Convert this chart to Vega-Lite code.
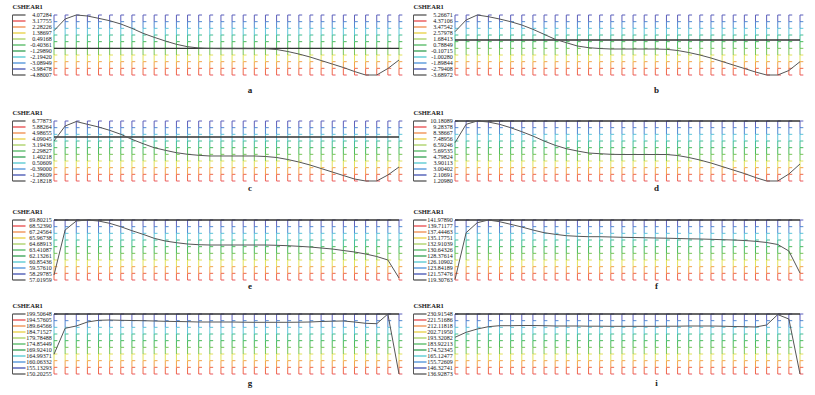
{
"$schema": "https://vega.github.io/schema/vega-lite/v6.json",
"background": "white",
"padding": {"left": 11.5, "top": 4, "right": 5, "bottom": 5},
"config": {"view": {"stroke": null}},
"datasets": {
"grid": [
{"k":0,"cols":[0,1,2,3,4,5,6,7,8,9,10,11,12,13,14,15,16,17,18,19,20,21,22,23,24,25,26,27,28,29,30,31]},
{"k":1,"cols":[0,1,2,3,4,5,6,7,8,9,10,11,12,13,14,15,16,17,18,19,20,21,22,23,24,25,26,27,28,29,30,31]},
{"k":2,"cols":[0,1,2,3,4,5,6,7,8,9,10,11,12,13,14,15,16,17,18,19,20,21,22,23,24,25,26,27,28,29,30,31]},
{"k":3,"cols":[0,1,2,3,4,5,6,7,8,9,10,11,12,13,14,15,16,17,18,19,20,21,22,23,24,25,26,27,28,29,30,31]},
{"k":4,"cols":[0,1,2,3,4,5,6,7,8,9,10,11,12,13,14,15,16,17,18,19,20,21,22,23,24,25,26,27,28,29,30,31]},
{"k":5,"cols":[0,1,2,3,4,5,6,7,8,9,10,11,12,13,14,15,16,17,18,19,20,21,22,23,24,25,26,27,28,29,30,31]},
{"k":6,"cols":[0,1,2,3,4,5,6,7,8,9,10,11,12,13,14,15,16,17,18,19,20,21,22,23,24,25,26,27,28,29,30,31]},
{"k":7,"cols":[0,1,2,3,4,5,6,7,8,9,10,11,12,13,14,15,16,17,18,19,20,21,22,23,24,25,26,27,28,29,30,31]},
{"k":8,"cols":[0,1,2,3,4,5,6,7,8,9,10,11,12,13,14,15,16,17,18,19,20,21,22,23,24,25,26,27,28,29,30,31]},
{"k":9,"cols":[0,1,2,3,4,5,6,7,8,9,10,11,12,13,14,15,16,17,18,19,20,21,22,23,24,25,26,27,28,29,30,31]}
],
"refs": [
{"p":"a","r":-0.896,"title":"CSHEAR1","lab":"a"},
{"p":"b","r":1.535,"title":"CSHEAR1","lab":"b"},
{"p":"c","r":4.389,"title":"CSHEAR1","lab":"c"},
{"p":"d","r":10.18089,"title":"CSHEAR1","lab":"d"},
{"p":"e","r":69.80215,"title":"CSHEAR1","lab":"e"},
{"p":"f","r":141.9789,"title":"CSHEAR1","lab":"f"},
{"p":"g","r":199.50648,"title":"CSHEAR1","lab":"g"},
{"p":"i","r":230.91548,"title":"CSHEAR1","lab":"i"}
],
"legend": [
{"p":"a","lv":10,"v":4.07284,"t":"4.07284"},{"p":"a","lv":9,"v":3.17755,"t":"3.17755"},{"p":"a","lv":8,"v":2.28226,"t":"2.28226"},{"p":"a","lv":7,"v":1.38697,"t":"1.38697"},{"p":"a","lv":6,"v":0.49168,"t":"0.49168"},{"p":"a","lv":5,"v":-0.40361,"t":"-0.40361"},{"p":"a","lv":4,"v":-1.2989,"t":"-1.29890"},{"p":"a","lv":3,"v":-2.1942,"t":"-2.19420"},{"p":"a","lv":2,"v":-3.08949,"t":"-3.08949"},{"p":"a","lv":1,"v":-3.98478,"t":"-3.98478"},{"p":"a","lv":0,"v":-4.88007,"t":"-4.88007"},
{"p":"b","lv":10,"v":5.26671,"t":"5.26671"},{"p":"b","lv":9,"v":4.37106,"t":"4.37106"},{"p":"b","lv":8,"v":3.47542,"t":"3.47542"},{"p":"b","lv":7,"v":2.57978,"t":"2.57978"},{"p":"b","lv":6,"v":1.68413,"t":"1.68413"},{"p":"b","lv":5,"v":0.78849,"t":"0.78849"},{"p":"b","lv":4,"v":-0.10715,"t":"-0.10715"},{"p":"b","lv":3,"v":-1.0028,"t":"-1.00280"},{"p":"b","lv":2,"v":-1.89844,"t":"-1.89844"},{"p":"b","lv":1,"v":-2.79408,"t":"-2.79408"},{"p":"b","lv":0,"v":-3.68972,"t":"-3.68972"},
{"p":"c","lv":10,"v":6.77873,"t":"6.77873"},{"p":"c","lv":9,"v":5.88264,"t":"5.88264"},{"p":"c","lv":8,"v":4.98655,"t":"4.98655"},{"p":"c","lv":7,"v":4.09045,"t":"4.09045"},{"p":"c","lv":6,"v":3.19436,"t":"3.19436"},{"p":"c","lv":5,"v":2.29827,"t":"2.29827"},{"p":"c","lv":4,"v":1.40218,"t":"1.40218"},{"p":"c","lv":3,"v":0.50609,"t":"0.50609"},{"p":"c","lv":2,"v":-0.39,"t":"-0.39000"},{"p":"c","lv":1,"v":-1.28609,"t":"-1.28609"},{"p":"c","lv":0,"v":-2.18218,"t":"-2.18218"},
{"p":"d","lv":10,"v":10.18089,"t":"10.18089"},{"p":"d","lv":9,"v":9.28378,"t":"9.28378"},{"p":"d","lv":8,"v":8.38667,"t":"8.38667"},{"p":"d","lv":7,"v":7.48956,"t":"7.48956"},{"p":"d","lv":6,"v":6.59246,"t":"6.59246"},{"p":"d","lv":5,"v":5.69535,"t":"5.69535"},{"p":"d","lv":4,"v":4.79824,"t":"4.79824"},{"p":"d","lv":3,"v":3.90113,"t":"3.90113"},{"p":"d","lv":2,"v":3.00402,"t":"3.00402"},{"p":"d","lv":1,"v":2.10691,"t":"2.10691"},{"p":"d","lv":0,"v":1.2098,"t":"1.20980"},
{"p":"e","lv":10,"v":69.80215,"t":"69.80215"},{"p":"e","lv":9,"v":68.5239,"t":"68.52390"},{"p":"e","lv":8,"v":67.24564,"t":"67.24564"},{"p":"e","lv":7,"v":65.96738,"t":"65.96738"},{"p":"e","lv":6,"v":64.68913,"t":"64.68913"},{"p":"e","lv":5,"v":63.41087,"t":"63.41087"},{"p":"e","lv":4,"v":62.13261,"t":"62.13261"},{"p":"e","lv":3,"v":60.85436,"t":"60.85436"},{"p":"e","lv":2,"v":59.5761,"t":"59.57610"},{"p":"e","lv":1,"v":58.29785,"t":"58.29785"},{"p":"e","lv":0,"v":57.01959,"t":"57.01959"},
{"p":"f","lv":10,"v":141.9789,"t":"141.97890"},{"p":"f","lv":9,"v":139.71177,"t":"139.71177"},{"p":"f","lv":8,"v":137.44463,"t":"137.44463"},{"p":"f","lv":7,"v":135.17751,"t":"135.17751"},{"p":"f","lv":6,"v":132.91039,"t":"132.91039"},{"p":"f","lv":5,"v":130.64326,"t":"130.64326"},{"p":"f","lv":4,"v":128.37614,"t":"128.37614"},{"p":"f","lv":3,"v":126.10902,"t":"126.10902"},{"p":"f","lv":2,"v":123.84189,"t":"123.84189"},{"p":"f","lv":1,"v":121.57476,"t":"121.57476"},{"p":"f","lv":0,"v":119.30763,"t":"119.30763"},
{"p":"g","lv":10,"v":199.50648,"t":"199.50648"},{"p":"g","lv":9,"v":194.57605,"t":"194.57605"},{"p":"g","lv":8,"v":189.64566,"t":"189.64566"},{"p":"g","lv":7,"v":184.71527,"t":"184.71527"},{"p":"g","lv":6,"v":179.78488,"t":"179.78488"},{"p":"g","lv":5,"v":174.85449,"t":"174.85449"},{"p":"g","lv":4,"v":169.9241,"t":"169.92410"},{"p":"g","lv":3,"v":164.99371,"t":"164.99371"},{"p":"g","lv":2,"v":160.06332,"t":"160.06332"},{"p":"g","lv":1,"v":155.13293,"t":"155.13293"},{"p":"g","lv":0,"v":150.20255,"t":"150.20255"},
{"p":"i","lv":10,"v":230.91548,"t":"230.91548"},{"p":"i","lv":9,"v":221.51686,"t":"221.51686"},{"p":"i","lv":8,"v":212.11818,"t":"212.11818"},{"p":"i","lv":7,"v":202.7195,"t":"202.71950"},{"p":"i","lv":6,"v":193.32082,"t":"193.32082"},{"p":"i","lv":5,"v":183.92213,"t":"183.92213"},{"p":"i","lv":4,"v":174.52345,"t":"174.52345"},{"p":"i","lv":3,"v":165.12477,"t":"165.12477"},{"p":"i","lv":2,"v":155.72609,"t":"155.72609"},{"p":"i","lv":1,"v":146.32741,"t":"146.32741"},{"p":"i","lv":0,"v":136.92873,"t":"136.92873"}
],
"curves": [
{"p":"a","c":0,"v":1.73},{"p":"a","c":1,"v":3.476},{"p":"a","c":2,"v":4.073},{"p":"a","c":3,"v":3.924},{"p":"a","c":4,"v":3.58},{"p":"a","c":5,"v":3.222},{"p":"a","c":6,"v":2.73},{"p":"a","c":7,"v":2.088},{"p":"a","c":8,"v":1.342},{"p":"a","c":9,"v":0.745},{"p":"a","c":10,"v":0.193},{"p":"a","c":11,"v":-0.299},{"p":"a","c":12,"v":-0.657},{"p":"a","c":13,"v":-0.851},{"p":"a","c":14,"v":-0.926},{"p":"a","c":15,"v":-0.956},{"p":"a","c":16,"v":-0.956},{"p":"a","c":17,"v":-0.956},{"p":"a","c":18,"v":-0.956},{"p":"a","c":19,"v":-0.956},{"p":"a","c":20,"v":-1.075},{"p":"a","c":21,"v":-1.374},{"p":"a","c":22,"v":-1.747},{"p":"a","c":23,"v":-2.194},{"p":"a","c":24,"v":-2.717},{"p":"a","c":25,"v":-3.239},{"p":"a","c":26,"v":-3.761},{"p":"a","c":27,"v":-4.358},{"p":"a","c":28,"v":-4.88},{"p":"a","c":29,"v":-4.88},{"p":"a","c":30,"v":-3.91},{"p":"a","c":31,"v":-2.642},
{"p":"b","c":0,"v":2.774},{"p":"b","c":1,"v":4.52},{"p":"b","c":2,"v":5.267},{"p":"b","c":3,"v":5.013},{"p":"b","c":4,"v":4.67},{"p":"b","c":5,"v":4.267},{"p":"b","c":6,"v":3.774},{"p":"b","c":7,"v":3.132},{"p":"b","c":8,"v":2.386},{"p":"b","c":9,"v":1.639},{"p":"b","c":10,"v":1.132},{"p":"b","c":11,"v":0.639},{"p":"b","c":12,"v":0.386},{"p":"b","c":13,"v":0.266},{"p":"b","c":14,"v":0.191},{"p":"b","c":15,"v":0.191},{"p":"b","c":16,"v":0.191},{"p":"b","c":17,"v":0.191},{"p":"b","c":18,"v":0.191},{"p":"b","c":19,"v":0.147},{"p":"b","c":20,"v":-0.032},{"p":"b","c":21,"v":-0.331},{"p":"b","c":22,"v":-0.704},{"p":"b","c":23,"v":-1.152},{"p":"b","c":24,"v":-1.674},{"p":"b","c":25,"v":-2.198},{"p":"b","c":26,"v":-2.719},{"p":"b","c":27,"v":-3.242},{"p":"b","c":28,"v":-3.69},{"p":"b","c":29,"v":-3.69},{"p":"b","c":30,"v":-3.018},{"p":"b","c":31,"v":-1.704},
{"p":"c","c":0,"v":3.792},{"p":"c","c":1,"v":6.032},{"p":"c","c":2,"v":6.7},{"p":"c","c":3,"v":6.286},{"p":"c","c":4,"v":5.883},{"p":"c","c":5,"v":5.39},{"p":"c","c":6,"v":4.792},{"p":"c","c":7,"v":4.046},{"p":"c","c":8,"v":3.388},{"p":"c","c":9,"v":2.791},{"p":"c","c":10,"v":2.403},{"p":"c","c":11,"v":2.044},{"p":"c","c":12,"v":1.806},{"p":"c","c":13,"v":1.656},{"p":"c","c":14,"v":1.552},{"p":"c","c":15,"v":1.552},{"p":"c","c":16,"v":1.552},{"p":"c","c":17,"v":1.552},{"p":"c","c":18,"v":1.552},{"p":"c","c":19,"v":1.477},{"p":"c","c":20,"v":1.328},{"p":"c","c":21,"v":1.029},{"p":"c","c":22,"v":0.656},{"p":"c","c":23,"v":0.207},{"p":"c","c":24,"v":-0.316},{"p":"c","c":25,"v":-0.838},{"p":"c","c":26,"v":-1.361},{"p":"c","c":27,"v":-1.884},{"p":"c","c":28,"v":-2.182},{"p":"c","c":29,"v":-2.182},{"p":"c","c":30,"v":-1.286},{"p":"c","c":31,"v":-0.091},
{"p":"d","c":0,"v":6.936},{"p":"d","c":1,"v":9.688},{"p":"d","c":2,"v":10.181},{"p":"d","c":3,"v":10.031},{"p":"d","c":4,"v":9.688},{"p":"d","c":5,"v":9.179},{"p":"d","c":6,"v":8.581},{"p":"d","c":7,"v":7.938},{"p":"d","c":8,"v":7.19},{"p":"d","c":9,"v":6.548},{"p":"d","c":10,"v":6.039},{"p":"d","c":11,"v":5.695},{"p":"d","c":12,"v":5.396},{"p":"d","c":13,"v":5.292},{"p":"d","c":14,"v":5.202},{"p":"d","c":15,"v":5.172},{"p":"d","c":16,"v":5.172},{"p":"d","c":17,"v":5.172},{"p":"d","c":18,"v":5.172},{"p":"d","c":19,"v":5.172},{"p":"d","c":20,"v":5.022},{"p":"d","c":21,"v":4.724},{"p":"d","c":22,"v":4.35},{"p":"d","c":23,"v":3.901},{"p":"d","c":24,"v":3.378},{"p":"d","c":25,"v":2.854},{"p":"d","c":26,"v":2.331},{"p":"d","c":27,"v":1.733},{"p":"d","c":28,"v":1.21},{"p":"d","c":29,"v":1.21},{"p":"d","c":30,"v":2.256},{"p":"d","c":31,"v":3.752},
{"p":"e","c":0,"v":58.085},{"p":"e","c":1,"v":67.672},{"p":"e","c":2,"v":69.589},{"p":"e","c":3,"v":69.802},{"p":"e","c":4,"v":69.589},{"p":"e","c":5,"v":69.099},{"p":"e","c":6,"v":68.375},{"p":"e","c":7,"v":67.523},{"p":"e","c":8,"v":66.756},{"p":"e","c":9,"v":65.904},{"p":"e","c":10,"v":65.328},{"p":"e","c":11,"v":64.966},{"p":"e","c":12,"v":64.689},{"p":"e","c":13,"v":64.54},{"p":"e","c":14,"v":64.476},{"p":"e","c":15,"v":64.476},{"p":"e","c":16,"v":64.476},{"p":"e","c":17,"v":64.476},{"p":"e","c":18,"v":64.476},{"p":"e","c":19,"v":64.476},{"p":"e","c":20,"v":64.412},{"p":"e","c":21,"v":64.327},{"p":"e","c":22,"v":64.199},{"p":"e","c":23,"v":64.05},{"p":"e","c":24,"v":63.837},{"p":"e","c":25,"v":63.624},{"p":"e","c":26,"v":63.304},{"p":"e","c":27,"v":62.985},{"p":"e","c":28,"v":62.559},{"p":"e","c":29,"v":62.026},{"p":"e","c":30,"v":61.281},{"p":"e","c":31,"v":57.446},
{"p":"f","c":0,"v":119.5},{"p":"f","c":1,"v":137.18},{"p":"f","c":2,"v":140.959},{"p":"f","c":3,"v":141.979},{"p":"f","c":4,"v":141.337},{"p":"f","c":5,"v":140.354},{"p":"f","c":6,"v":139.334},{"p":"f","c":7,"v":138.2},{"p":"f","c":8,"v":137.18},{"p":"f","c":9,"v":136.576},{"p":"f","c":10,"v":136.047},{"p":"f","c":11,"v":135.82},{"p":"f","c":12,"v":135.669},{"p":"f","c":13,"v":135.669},{"p":"f","c":14,"v":135.556},{"p":"f","c":15,"v":135.442},{"p":"f","c":16,"v":135.367},{"p":"f","c":17,"v":135.291},{"p":"f","c":18,"v":135.178},{"p":"f","c":19,"v":135.102},{"p":"f","c":20,"v":134.989},{"p":"f","c":21,"v":134.876},{"p":"f","c":22,"v":134.8},{"p":"f","c":23,"v":134.687},{"p":"f","c":24,"v":134.536},{"p":"f","c":25,"v":134.422},{"p":"f","c":26,"v":134.233},{"p":"f","c":27,"v":133.931},{"p":"f","c":28,"v":133.478},{"p":"f","c":29,"v":132.722},{"p":"f","c":30,"v":130.266},{"p":"f","c":31,"v":121.953},
{"p":"g","c":0,"v":166.391},{"p":"g","c":1,"v":187.756},{"p":"g","c":2,"v":189.646},{"p":"g","c":3,"v":192.933},{"p":"g","c":4,"v":194.33},{"p":"g","c":5,"v":194.576},{"p":"g","c":6,"v":194.33},{"p":"g","c":7,"v":194.165},{"p":"g","c":8,"v":194.001},{"p":"g","c":9,"v":193.755},{"p":"g","c":10,"v":193.508},{"p":"g","c":11,"v":193.343},{"p":"g","c":12,"v":193.179},{"p":"g","c":13,"v":192.933},{"p":"g","c":14,"v":192.933},{"p":"g","c":15,"v":192.933},{"p":"g","c":16,"v":192.933},{"p":"g","c":17,"v":192.768},{"p":"g","c":18,"v":192.686},{"p":"g","c":19,"v":192.686},{"p":"g","c":20,"v":192.686},{"p":"g","c":21,"v":192.686},{"p":"g","c":22,"v":192.768},{"p":"g","c":23,"v":192.933},{"p":"g","c":24,"v":193.343},{"p":"g","c":25,"v":193.59},{"p":"g","c":26,"v":193.755},{"p":"g","c":27,"v":192.933},{"p":"g","c":28,"v":191.865},{"p":"g","c":29,"v":191.536},{"p":"g","c":30,"v":199.5},{"p":"g","c":31,"v":150.21},
{"p":"i","c":0,"v":194.418},{"p":"i","c":1,"v":202.25},{"p":"i","c":2,"v":207.419},{"p":"i","c":3,"v":211.022},{"p":"i","c":4,"v":212.589},{"p":"i","c":5,"v":212.589},{"p":"i","c":6,"v":212.902},{"p":"i","c":7,"v":212.902},{"p":"i","c":8,"v":212.589},{"p":"i","c":9,"v":212.118},{"p":"i","c":10,"v":212.118},{"p":"i","c":11,"v":212.118},{"p":"i","c":12,"v":211.805},{"p":"i","c":13,"v":211.805},{"p":"i","c":14,"v":211.648},{"p":"i","c":15,"v":211.648},{"p":"i","c":16,"v":211.648},{"p":"i","c":17,"v":211.648},{"p":"i","c":18,"v":211.648},{"p":"i","c":19,"v":211.805},{"p":"i","c":20,"v":211.805},{"p":"i","c":21,"v":212.118},{"p":"i","c":22,"v":212.118},{"p":"i","c":23,"v":212.118},{"p":"i","c":24,"v":211.805},{"p":"i","c":25,"v":211.335},{"p":"i","c":26,"v":211.022},{"p":"i","c":27,"v":210.552},{"p":"i","c":28,"v":213.685},{"p":"i","c":29,"v":230.0},{"p":"i","c":30,"v":223.083},{"p":"i","c":31,"v":136.93}
]
},
"vconcat": [
{"hconcat": [
{"width":386.5,"height":60,"layer":[
{"layer":[
{"data":{"name":"grid"},"transform":[{"flatten":["cols"]}],"mark":{"type":"point","filled":false,"opacity":0.9,"strokeWidth":1,"size":178},"encoding":{"x":{"field":"cols","type":"quantitative","scale":{"domain":[-3.73,31],"nice":false,"zero":false},"axis":null},"y":{"field":"k","type":"quantitative","scale":{"domain":[0,9],"nice":false,"zero":false},"axis":null},"stroke":{"field":"k","type":"nominal","scale":{"domain":[0,1,2,3,4,5,6,7,8,9],"range":["#e8444f","#ee5a3a","#f29a38","#e0e04a","#6cc04a","#39b54a","#2fb88a","#4fc1d6","#3f7fcf","#4b4fb5"]},"legend":null},"shape":{"field":"k","type":"nominal","scale":{"domain":[0,1,2,3,4,5,6,7,8,9],"range":["M0,0H0.5","M0,0H0.5M0,0V1","M0,0H0.5M0,0V1","M0,0H0.5M0,0V1","M0,0H0.5M0,0V1","M0,0H0.5M0,0V1","M0,0H0.5M0,0V1","M0,0H0.5M0,0V1","M0,0H0.5M0,0V1","M0,0H0.5M0,0V1"]},"legend":null}}},
{"data":{"name":"refs"},"transform":[{"filter":"datum.p=='a'"}],"mark":{"type":"text","align":"left","baseline":"middle","font":"Liberation Serif","fontSize":6.5,"fontWeight":"bold","color":"#222"},"encoding":{"x":{"datum":-3.73},"y":{"datum":10.2},"text":{"field":"title"}}},
{"data":{"name":"refs"},"transform":[{"filter":"datum.p=='a'"}],"mark":{"type":"text","align":"center","baseline":"middle","font":"Liberation Serif","fontSize":9,"fontWeight":"bold","color":"#222"},"encoding":{"x":{"datum":17.6},"y":{"datum":-2.18},"text":{"field":"lab"}}}
]},
{"layer":[
{"data":{"name":"legend"},"transform":[{"filter":"datum.p=='a'"}],"mark":{"type":"rule","strokeWidth":1.3},"encoding":{"x":{"datum":-3.73},"x2":{"datum":-2.56},"y":{"field":"v","type":"quantitative","scale":{"domain":[-4.88007,4.07284],"nice":false,"zero":false},"axis":null},"color":{"field":"lv","type":"nominal","scale":{"domain":[0,1,2,3,4,5,6,7,8,9,10],"range":["#555555","#4050b0","#4a90d8","#50c8d0","#30a050","#50b860","#a8d060","#e8d040","#f08a4a","#e8474a","#555555"]},"legend":null}}},
{"data":{"name":"refs"},"transform":[{"filter":"datum.p=='a'"}],"mark":{"type":"rule","color":"#555555","strokeWidth":1},"encoding":{"x":{"datum":-3.73},"y":{"datum":-4.88007},"y2":{"datum":4.07284}}},
{"data":{"name":"legend"},"transform":[{"filter":"datum.p=='a'"}],"mark":{"type":"text","align":"right","baseline":"middle","font":"Liberation Serif","fontSize":6,"color":"#111111"},"encoding":{"x":{"datum":-0.2},"y":{"field":"v","type":"quantitative"},"text":{"field":"t"}}},
{"data":{"name":"refs"},"transform":[{"filter":"datum.p=='a'"}],"mark":{"type":"rule","color":"#333333","strokeWidth":1.3},"encoding":{"x":{"datum":0},"x2":{"datum":31},"y":{"field":"r","type":"quantitative"}}},
{"data":{"name":"curves"},"transform":[{"filter":"datum.p=='a'"}],"mark":{"type":"line","color":"#555555","strokeWidth":1},"encoding":{"x":{"field":"c","type":"quantitative"},"y":{"field":"v","type":"quantitative"}}}
]}
],"resolve":{"scale":{"y":"independent"}}},
{"width":386.5,"height":60,"layer":[
{"layer":[
{"data":{"name":"grid"},"transform":[{"flatten":["cols"]}],"mark":{"type":"point","filled":false,"opacity":0.9,"strokeWidth":1,"size":178},"encoding":{"x":{"field":"cols","type":"quantitative","scale":{"domain":[-3.73,31],"nice":false,"zero":false},"axis":null},"y":{"field":"k","type":"quantitative","scale":{"domain":[0,9],"nice":false,"zero":false},"axis":null},"stroke":{"field":"k","type":"nominal","scale":{"domain":[0,1,2,3,4,5,6,7,8,9],"range":["#e8444f","#ee5a3a","#f29a38","#e0e04a","#6cc04a","#39b54a","#2fb88a","#4fc1d6","#3f7fcf","#4b4fb5"]},"legend":null},"shape":{"field":"k","type":"nominal","scale":{"domain":[0,1,2,3,4,5,6,7,8,9],"range":["M0,0H0.5","M0,0H0.5M0,0V1","M0,0H0.5M0,0V1","M0,0H0.5M0,0V1","M0,0H0.5M0,0V1","M0,0H0.5M0,0V1","M0,0H0.5M0,0V1","M0,0H0.5M0,0V1","M0,0H0.5M0,0V1","M0,0H0.5M0,0V1"]},"legend":null}}},
{"data":{"name":"refs"},"transform":[{"filter":"datum.p=='b'"}],"mark":{"type":"text","align":"left","baseline":"middle","font":"Liberation Serif","fontSize":6.5,"fontWeight":"bold","color":"#222"},"encoding":{"x":{"datum":-3.73},"y":{"datum":10.2},"text":{"field":"title"}}},
{"data":{"name":"refs"},"transform":[{"filter":"datum.p=='b'"}],"mark":{"type":"text","align":"center","baseline":"middle","font":"Liberation Serif","fontSize":9,"fontWeight":"bold","color":"#222"},"encoding":{"x":{"datum":18.1},"y":{"datum":-2.18},"text":{"field":"lab"}}}
]},
{"layer":[
{"data":{"name":"legend"},"transform":[{"filter":"datum.p=='b'"}],"mark":{"type":"rule","strokeWidth":1.3},"encoding":{"x":{"datum":-3.73},"x2":{"datum":-2.56},"y":{"field":"v","type":"quantitative","scale":{"domain":[-3.68972,5.26671],"nice":false,"zero":false},"axis":null},"color":{"field":"lv","type":"nominal","scale":{"domain":[0,1,2,3,4,5,6,7,8,9,10],"range":["#555555","#4050b0","#4a90d8","#50c8d0","#30a050","#50b860","#a8d060","#e8d040","#f08a4a","#e8474a","#555555"]},"legend":null}}},
{"data":{"name":"refs"},"transform":[{"filter":"datum.p=='b'"}],"mark":{"type":"rule","color":"#555555","strokeWidth":1},"encoding":{"x":{"datum":-3.73},"y":{"datum":-3.68972},"y2":{"datum":5.26671}}},
{"data":{"name":"legend"},"transform":[{"filter":"datum.p=='b'"}],"mark":{"type":"text","align":"right","baseline":"middle","font":"Liberation Serif","fontSize":6,"color":"#111111"},"encoding":{"x":{"datum":-0.2},"y":{"field":"v","type":"quantitative"},"text":{"field":"t"}}},
{"data":{"name":"refs"},"transform":[{"filter":"datum.p=='b'"}],"mark":{"type":"rule","color":"#333333","strokeWidth":1.3},"encoding":{"x":{"datum":0},"x2":{"datum":31},"y":{"field":"r","type":"quantitative"}}},
{"data":{"name":"curves"},"transform":[{"filter":"datum.p=='b'"}],"mark":{"type":"line","color":"#555555","strokeWidth":1},"encoding":{"x":{"field":"c","type":"quantitative"},"y":{"field":"v","type":"quantitative"}}}
]}
],"resolve":{"scale":{"y":"independent"}}}
], "spacing": 14, "bounds": "flush"},
{"vconcat": [
{"hconcat": [
{"width":386.5,"height":60,"layer":[
{"layer":[
{"data":{"name":"grid"},"transform":[{"flatten":["cols"]}],"mark":{"type":"point","filled":false,"opacity":0.9,"strokeWidth":1,"size":178},"encoding":{"x":{"field":"cols","type":"quantitative","scale":{"domain":[-3.73,31],"nice":false,"zero":false},"axis":null},"y":{"field":"k","type":"quantitative","scale":{"domain":[0,9],"nice":false,"zero":false},"axis":null},"stroke":{"field":"k","type":"nominal","scale":{"domain":[0,1,2,3,4,5,6,7,8,9],"range":["#e8444f","#ee5a3a","#f29a38","#e0e04a","#6cc04a","#39b54a","#2fb88a","#4fc1d6","#3f7fcf","#4b4fb5"]},"legend":null},"shape":{"field":"k","type":"nominal","scale":{"domain":[0,1,2,3,4,5,6,7,8,9],"range":["M0,0H0.5","M0,0H0.5M0,0V1","M0,0H0.5M0,0V1","M0,0H0.5M0,0V1","M0,0H0.5M0,0V1","M0,0H0.5M0,0V1","M0,0H0.5M0,0V1","M0,0H0.5M0,0V1","M0,0H0.5M0,0V1","M0,0H0.5M0,0V1"]},"legend":null}}},
{"data":{"name":"refs"},"transform":[{"filter":"datum.p=='c'"}],"mark":{"type":"text","align":"left","baseline":"middle","font":"Liberation Serif","fontSize":6.5,"fontWeight":"bold","color":"#222"},"encoding":{"x":{"datum":-3.73},"y":{"datum":10.2},"text":{"field":"title"}}},
{"data":{"name":"refs"},"transform":[{"filter":"datum.p=='c'"}],"mark":{"type":"text","align":"center","baseline":"middle","font":"Liberation Serif","fontSize":9,"fontWeight":"bold","color":"#222"},"encoding":{"x":{"datum":17.6},"y":{"datum":-1.05},"text":{"field":"lab"}}}
]},
{"layer":[
{"data":{"name":"legend"},"transform":[{"filter":"datum.p=='c'"}],"mark":{"type":"rule","strokeWidth":1.3},"encoding":{"x":{"datum":-3.73},"x2":{"datum":-2.56},"y":{"field":"v","type":"quantitative","scale":{"domain":[-2.18218,6.77873],"nice":false,"zero":false},"axis":null},"color":{"field":"lv","type":"nominal","scale":{"domain":[0,1,2,3,4,5,6,7,8,9,10],"range":["#555555","#4050b0","#4a90d8","#50c8d0","#30a050","#50b860","#a8d060","#e8d040","#f08a4a","#e8474a","#555555"]},"legend":null}}},
{"data":{"name":"refs"},"transform":[{"filter":"datum.p=='c'"}],"mark":{"type":"rule","color":"#555555","strokeWidth":1},"encoding":{"x":{"datum":-3.73},"y":{"datum":-2.18218},"y2":{"datum":6.77873}}},
{"data":{"name":"legend"},"transform":[{"filter":"datum.p=='c'"}],"mark":{"type":"text","align":"right","baseline":"middle","font":"Liberation Serif","fontSize":6,"color":"#111111"},"encoding":{"x":{"datum":-0.2},"y":{"field":"v","type":"quantitative"},"text":{"field":"t"}}},
{"data":{"name":"refs"},"transform":[{"filter":"datum.p=='c'"}],"mark":{"type":"rule","color":"#333333","strokeWidth":1.3},"encoding":{"x":{"datum":0},"x2":{"datum":31},"y":{"field":"r","type":"quantitative"}}},
{"data":{"name":"curves"},"transform":[{"filter":"datum.p=='c'"}],"mark":{"type":"line","color":"#555555","strokeWidth":1},"encoding":{"x":{"field":"c","type":"quantitative"},"y":{"field":"v","type":"quantitative"}}}
]}
],"resolve":{"scale":{"y":"independent"}}},
{"width":386.5,"height":60,"layer":[
{"layer":[
{"data":{"name":"grid"},"transform":[{"flatten":["cols"]}],"mark":{"type":"point","filled":false,"opacity":0.9,"strokeWidth":1,"size":178},"encoding":{"x":{"field":"cols","type":"quantitative","scale":{"domain":[-3.73,31],"nice":false,"zero":false},"axis":null},"y":{"field":"k","type":"quantitative","scale":{"domain":[0,9],"nice":false,"zero":false},"axis":null},"stroke":{"field":"k","type":"nominal","scale":{"domain":[0,1,2,3,4,5,6,7,8,9],"range":["#e8444f","#ee5a3a","#f29a38","#e0e04a","#6cc04a","#39b54a","#2fb88a","#4fc1d6","#3f7fcf","#4b4fb5"]},"legend":null},"shape":{"field":"k","type":"nominal","scale":{"domain":[0,1,2,3,4,5,6,7,8,9],"range":["M0,0H0.5","M0,0H0.5M0,0V1","M0,0H0.5M0,0V1","M0,0H0.5M0,0V1","M0,0H0.5M0,0V1","M0,0H0.5M0,0V1","M0,0H0.5M0,0V1","M0,0H0.5M0,0V1","M0,0H0.5M0,0V1","M0,0H0.5M0,0V1"]},"legend":null}}},
{"data":{"name":"refs"},"transform":[{"filter":"datum.p=='d'"}],"mark":{"type":"text","align":"left","baseline":"middle","font":"Liberation Serif","fontSize":6.5,"fontWeight":"bold","color":"#222"},"encoding":{"x":{"datum":-3.73},"y":{"datum":10.2},"text":{"field":"title"}}},
{"data":{"name":"refs"},"transform":[{"filter":"datum.p=='d'"}],"mark":{"type":"text","align":"center","baseline":"middle","font":"Liberation Serif","fontSize":9,"fontWeight":"bold","color":"#222"},"encoding":{"x":{"datum":18.1},"y":{"datum":-1.05},"text":{"field":"lab"}}}
]},
{"layer":[
{"data":{"name":"legend"},"transform":[{"filter":"datum.p=='d'"}],"mark":{"type":"rule","strokeWidth":1.3},"encoding":{"x":{"datum":-3.73},"x2":{"datum":-2.56},"y":{"field":"v","type":"quantitative","scale":{"domain":[1.2098,10.18089],"nice":false,"zero":false},"axis":null},"color":{"field":"lv","type":"nominal","scale":{"domain":[0,1,2,3,4,5,6,7,8,9,10],"range":["#555555","#4050b0","#4a90d8","#50c8d0","#30a050","#50b860","#a8d060","#e8d040","#f08a4a","#e8474a","#555555"]},"legend":null}}},
{"data":{"name":"refs"},"transform":[{"filter":"datum.p=='d'"}],"mark":{"type":"rule","color":"#555555","strokeWidth":1},"encoding":{"x":{"datum":-3.73},"y":{"datum":1.2098},"y2":{"datum":10.18089}}},
{"data":{"name":"legend"},"transform":[{"filter":"datum.p=='d'"}],"mark":{"type":"text","align":"right","baseline":"middle","font":"Liberation Serif","fontSize":6,"color":"#111111"},"encoding":{"x":{"datum":-0.2},"y":{"field":"v","type":"quantitative"},"text":{"field":"t"}}},
{"data":{"name":"refs"},"transform":[{"filter":"datum.p=='d'"}],"mark":{"type":"rule","color":"#333333","strokeWidth":1.3},"encoding":{"x":{"datum":0},"x2":{"datum":31},"y":{"field":"r","type":"quantitative"}}},
{"data":{"name":"curves"},"transform":[{"filter":"datum.p=='d'"}],"mark":{"type":"line","color":"#555555","strokeWidth":1},"encoding":{"x":{"field":"c","type":"quantitative"},"y":{"field":"v","type":"quantitative"}}}
]}
],"resolve":{"scale":{"y":"independent"}}}
], "spacing": 14, "bounds": "flush"},
{"vconcat": [
{"hconcat": [
{"width":386.5,"height":60,"layer":[
{"layer":[
{"data":{"name":"grid"},"transform":[{"flatten":["cols"]}],"mark":{"type":"point","filled":false,"opacity":0.9,"strokeWidth":1,"size":178},"encoding":{"x":{"field":"cols","type":"quantitative","scale":{"domain":[-3.73,31],"nice":false,"zero":false},"axis":null},"y":{"field":"k","type":"quantitative","scale":{"domain":[0,9],"nice":false,"zero":false},"axis":null},"stroke":{"field":"k","type":"nominal","scale":{"domain":[0,1,2,3,4,5,6,7,8,9],"range":["#e8444f","#ee5a3a","#f29a38","#e0e04a","#6cc04a","#39b54a","#2fb88a","#4fc1d6","#3f7fcf","#4b4fb5"]},"legend":null},"shape":{"field":"k","type":"nominal","scale":{"domain":[0,1,2,3,4,5,6,7,8,9],"range":["M0,0H0.5","M0,0H0.5M0,0V1","M0,0H0.5M0,0V1","M0,0H0.5M0,0V1","M0,0H0.5M0,0V1","M0,0H0.5M0,0V1","M0,0H0.5M0,0V1","M0,0H0.5M0,0V1","M0,0H0.5M0,0V1","M0,0H0.5M0,0V1"]},"legend":null}}},
{"data":{"name":"refs"},"transform":[{"filter":"datum.p=='e'"}],"mark":{"type":"text","align":"left","baseline":"middle","font":"Liberation Serif","fontSize":6.5,"fontWeight":"bold","color":"#222"},"encoding":{"x":{"datum":-3.73},"y":{"datum":10.2},"text":{"field":"title"}}},
{"data":{"name":"refs"},"transform":[{"filter":"datum.p=='e'"}],"mark":{"type":"text","align":"center","baseline":"middle","font":"Liberation Serif","fontSize":9,"fontWeight":"bold","color":"#222"},"encoding":{"x":{"datum":17.6},"y":{"datum":-0.9},"text":{"field":"lab"}}}
]},
{"layer":[
{"data":{"name":"legend"},"transform":[{"filter":"datum.p=='e'"}],"mark":{"type":"rule","strokeWidth":1.3},"encoding":{"x":{"datum":-3.73},"x2":{"datum":-2.56},"y":{"field":"v","type":"quantitative","scale":{"domain":[57.01959,69.80215],"nice":false,"zero":false},"axis":null},"color":{"field":"lv","type":"nominal","scale":{"domain":[0,1,2,3,4,5,6,7,8,9,10],"range":["#555555","#4050b0","#4a90d8","#50c8d0","#30a050","#50b860","#a8d060","#e8d040","#f08a4a","#e8474a","#555555"]},"legend":null}}},
{"data":{"name":"refs"},"transform":[{"filter":"datum.p=='e'"}],"mark":{"type":"rule","color":"#555555","strokeWidth":1},"encoding":{"x":{"datum":-3.73},"y":{"datum":57.01959},"y2":{"datum":69.80215}}},
{"data":{"name":"legend"},"transform":[{"filter":"datum.p=='e'"}],"mark":{"type":"text","align":"right","baseline":"middle","font":"Liberation Serif","fontSize":6,"color":"#111111"},"encoding":{"x":{"datum":-0.2},"y":{"field":"v","type":"quantitative"},"text":{"field":"t"}}},
{"data":{"name":"refs"},"transform":[{"filter":"datum.p=='e'"}],"mark":{"type":"rule","color":"#333333","strokeWidth":1.3},"encoding":{"x":{"datum":0},"x2":{"datum":31},"y":{"field":"r","type":"quantitative"}}},
{"data":{"name":"curves"},"transform":[{"filter":"datum.p=='e'"}],"mark":{"type":"line","color":"#555555","strokeWidth":1},"encoding":{"x":{"field":"c","type":"quantitative"},"y":{"field":"v","type":"quantitative"}}}
]}
],"resolve":{"scale":{"y":"independent"}}},
{"width":386.5,"height":60,"layer":[
{"layer":[
{"data":{"name":"grid"},"transform":[{"flatten":["cols"]}],"mark":{"type":"point","filled":false,"opacity":0.9,"strokeWidth":1,"size":178},"encoding":{"x":{"field":"cols","type":"quantitative","scale":{"domain":[-3.73,31],"nice":false,"zero":false},"axis":null},"y":{"field":"k","type":"quantitative","scale":{"domain":[0,9],"nice":false,"zero":false},"axis":null},"stroke":{"field":"k","type":"nominal","scale":{"domain":[0,1,2,3,4,5,6,7,8,9],"range":["#e8444f","#ee5a3a","#f29a38","#e0e04a","#6cc04a","#39b54a","#2fb88a","#4fc1d6","#3f7fcf","#4b4fb5"]},"legend":null},"shape":{"field":"k","type":"nominal","scale":{"domain":[0,1,2,3,4,5,6,7,8,9],"range":["M0,0H0.5","M0,0H0.5M0,0V1","M0,0H0.5M0,0V1","M0,0H0.5M0,0V1","M0,0H0.5M0,0V1","M0,0H0.5M0,0V1","M0,0H0.5M0,0V1","M0,0H0.5M0,0V1","M0,0H0.5M0,0V1","M0,0H0.5M0,0V1"]},"legend":null}}},
{"data":{"name":"refs"},"transform":[{"filter":"datum.p=='f'"}],"mark":{"type":"text","align":"left","baseline":"middle","font":"Liberation Serif","fontSize":6.5,"fontWeight":"bold","color":"#222"},"encoding":{"x":{"datum":-3.73},"y":{"datum":10.2},"text":{"field":"title"}}},
{"data":{"name":"refs"},"transform":[{"filter":"datum.p=='f'"}],"mark":{"type":"text","align":"center","baseline":"middle","font":"Liberation Serif","fontSize":9,"fontWeight":"bold","color":"#222"},"encoding":{"x":{"datum":18.1},"y":{"datum":-0.9},"text":{"field":"lab"}}}
]},
{"layer":[
{"data":{"name":"legend"},"transform":[{"filter":"datum.p=='f'"}],"mark":{"type":"rule","strokeWidth":1.3},"encoding":{"x":{"datum":-3.73},"x2":{"datum":-2.56},"y":{"field":"v","type":"quantitative","scale":{"domain":[119.30763,141.9789],"nice":false,"zero":false},"axis":null},"color":{"field":"lv","type":"nominal","scale":{"domain":[0,1,2,3,4,5,6,7,8,9,10],"range":["#555555","#4050b0","#4a90d8","#50c8d0","#30a050","#50b860","#a8d060","#e8d040","#f08a4a","#e8474a","#555555"]},"legend":null}}},
{"data":{"name":"refs"},"transform":[{"filter":"datum.p=='f'"}],"mark":{"type":"rule","color":"#555555","strokeWidth":1},"encoding":{"x":{"datum":-3.73},"y":{"datum":119.30763},"y2":{"datum":141.9789}}},
{"data":{"name":"legend"},"transform":[{"filter":"datum.p=='f'"}],"mark":{"type":"text","align":"right","baseline":"middle","font":"Liberation Serif","fontSize":6,"color":"#111111"},"encoding":{"x":{"datum":-0.2},"y":{"field":"v","type":"quantitative"},"text":{"field":"t"}}},
{"data":{"name":"refs"},"transform":[{"filter":"datum.p=='f'"}],"mark":{"type":"rule","color":"#333333","strokeWidth":1.3},"encoding":{"x":{"datum":0},"x2":{"datum":31},"y":{"field":"r","type":"quantitative"}}},
{"data":{"name":"curves"},"transform":[{"filter":"datum.p=='f'"}],"mark":{"type":"line","color":"#555555","strokeWidth":1},"encoding":{"x":{"field":"c","type":"quantitative"},"y":{"field":"v","type":"quantitative"}}}
]}
],"resolve":{"scale":{"y":"independent"}}}
], "spacing": 14, "bounds": "flush"},
{"hconcat": [
{"width":386.5,"height":60,"layer":[
{"layer":[
{"data":{"name":"grid"},"transform":[{"flatten":["cols"]}],"mark":{"type":"point","filled":false,"opacity":0.9,"strokeWidth":1,"size":178},"encoding":{"x":{"field":"cols","type":"quantitative","scale":{"domain":[-3.73,31],"nice":false,"zero":false},"axis":null},"y":{"field":"k","type":"quantitative","scale":{"domain":[0,9],"nice":false,"zero":false},"axis":null},"stroke":{"field":"k","type":"nominal","scale":{"domain":[0,1,2,3,4,5,6,7,8,9],"range":["#e8444f","#ee5a3a","#f29a38","#e0e04a","#6cc04a","#39b54a","#2fb88a","#4fc1d6","#3f7fcf","#4b4fb5"]},"legend":null},"shape":{"field":"k","type":"nominal","scale":{"domain":[0,1,2,3,4,5,6,7,8,9],"range":["M0,0H0.5","M0,0H0.5M0,0V1","M0,0H0.5M0,0V1","M0,0H0.5M0,0V1","M0,0H0.5M0,0V1","M0,0H0.5M0,0V1","M0,0H0.5M0,0V1","M0,0H0.5M0,0V1","M0,0H0.5M0,0V1","M0,0H0.5M0,0V1"]},"legend":null}}},
{"data":{"name":"refs"},"transform":[{"filter":"datum.p=='g'"}],"mark":{"type":"text","align":"left","baseline":"middle","font":"Liberation Serif","fontSize":6.5,"fontWeight":"bold","color":"#222"},"encoding":{"x":{"datum":-3.73},"y":{"datum":10.2},"text":{"field":"title"}}},
{"data":{"name":"refs"},"transform":[{"filter":"datum.p=='g'"}],"mark":{"type":"text","align":"center","baseline":"middle","font":"Liberation Serif","fontSize":9,"fontWeight":"bold","color":"#222"},"encoding":{"x":{"datum":17.6},"y":{"datum":-1.35},"text":{"field":"lab"}}}
]},
{"layer":[
{"data":{"name":"legend"},"transform":[{"filter":"datum.p=='g'"}],"mark":{"type":"rule","strokeWidth":1.3},"encoding":{"x":{"datum":-3.73},"x2":{"datum":-2.56},"y":{"field":"v","type":"quantitative","scale":{"domain":[150.20255,199.50648],"nice":false,"zero":false},"axis":null},"color":{"field":"lv","type":"nominal","scale":{"domain":[0,1,2,3,4,5,6,7,8,9,10],"range":["#555555","#4050b0","#4a90d8","#50c8d0","#30a050","#50b860","#a8d060","#e8d040","#f08a4a","#e8474a","#555555"]},"legend":null}}},
{"data":{"name":"refs"},"transform":[{"filter":"datum.p=='g'"}],"mark":{"type":"rule","color":"#555555","strokeWidth":1},"encoding":{"x":{"datum":-3.73},"y":{"datum":150.20255},"y2":{"datum":199.50648}}},
{"data":{"name":"legend"},"transform":[{"filter":"datum.p=='g'"}],"mark":{"type":"text","align":"right","baseline":"middle","font":"Liberation Serif","fontSize":6,"color":"#111111"},"encoding":{"x":{"datum":-0.2},"y":{"field":"v","type":"quantitative"},"text":{"field":"t"}}},
{"data":{"name":"refs"},"transform":[{"filter":"datum.p=='g'"}],"mark":{"type":"rule","color":"#333333","strokeWidth":1.3},"encoding":{"x":{"datum":0},"x2":{"datum":31},"y":{"field":"r","type":"quantitative"}}},
{"data":{"name":"curves"},"transform":[{"filter":"datum.p=='g'"}],"mark":{"type":"line","color":"#555555","strokeWidth":1},"encoding":{"x":{"field":"c","type":"quantitative"},"y":{"field":"v","type":"quantitative"}}}
]}
],"resolve":{"scale":{"y":"independent"}}},
{"width":386.5,"height":60,"layer":[
{"layer":[
{"data":{"name":"grid"},"transform":[{"flatten":["cols"]}],"mark":{"type":"point","filled":false,"opacity":0.9,"strokeWidth":1,"size":178},"encoding":{"x":{"field":"cols","type":"quantitative","scale":{"domain":[-3.73,31],"nice":false,"zero":false},"axis":null},"y":{"field":"k","type":"quantitative","scale":{"domain":[0,9],"nice":false,"zero":false},"axis":null},"stroke":{"field":"k","type":"nominal","scale":{"domain":[0,1,2,3,4,5,6,7,8,9],"range":["#e8444f","#ee5a3a","#f29a38","#e0e04a","#6cc04a","#39b54a","#2fb88a","#4fc1d6","#3f7fcf","#4b4fb5"]},"legend":null},"shape":{"field":"k","type":"nominal","scale":{"domain":[0,1,2,3,4,5,6,7,8,9],"range":["M0,0H0.5","M0,0H0.5M0,0V1","M0,0H0.5M0,0V1","M0,0H0.5M0,0V1","M0,0H0.5M0,0V1","M0,0H0.5M0,0V1","M0,0H0.5M0,0V1","M0,0H0.5M0,0V1","M0,0H0.5M0,0V1","M0,0H0.5M0,0V1"]},"legend":null}}},
{"data":{"name":"refs"},"transform":[{"filter":"datum.p=='i'"}],"mark":{"type":"text","align":"left","baseline":"middle","font":"Liberation Serif","fontSize":6.5,"fontWeight":"bold","color":"#222"},"encoding":{"x":{"datum":-3.73},"y":{"datum":10.2},"text":{"field":"title"}}},
{"data":{"name":"refs"},"transform":[{"filter":"datum.p=='i'"}],"mark":{"type":"text","align":"center","baseline":"middle","font":"Liberation Serif","fontSize":9,"fontWeight":"bold","color":"#222"},"encoding":{"x":{"datum":18.1},"y":{"datum":-1.35},"text":{"field":"lab"}}}
]},
{"layer":[
{"data":{"name":"legend"},"transform":[{"filter":"datum.p=='i'"}],"mark":{"type":"rule","strokeWidth":1.3},"encoding":{"x":{"datum":-3.73},"x2":{"datum":-2.56},"y":{"field":"v","type":"quantitative","scale":{"domain":[136.92873,230.91548],"nice":false,"zero":false},"axis":null},"color":{"field":"lv","type":"nominal","scale":{"domain":[0,1,2,3,4,5,6,7,8,9,10],"range":["#555555","#4050b0","#4a90d8","#50c8d0","#30a050","#50b860","#a8d060","#e8d040","#f08a4a","#e8474a","#555555"]},"legend":null}}},
{"data":{"name":"refs"},"transform":[{"filter":"datum.p=='i'"}],"mark":{"type":"rule","color":"#555555","strokeWidth":1},"encoding":{"x":{"datum":-3.73},"y":{"datum":136.92873},"y2":{"datum":230.91548}}},
{"data":{"name":"legend"},"transform":[{"filter":"datum.p=='i'"}],"mark":{"type":"text","align":"right","baseline":"middle","font":"Liberation Serif","fontSize":6,"color":"#111111"},"encoding":{"x":{"datum":-0.2},"y":{"field":"v","type":"quantitative"},"text":{"field":"t"}}},
{"data":{"name":"refs"},"transform":[{"filter":"datum.p=='i'"}],"mark":{"type":"rule","color":"#333333","strokeWidth":1.3},"encoding":{"x":{"datum":0},"x2":{"datum":31},"y":{"field":"r","type":"quantitative"}}},
{"data":{"name":"curves"},"transform":[{"filter":"datum.p=='i'"}],"mark":{"type":"line","color":"#555555","strokeWidth":1},"encoding":{"x":{"field":"c","type":"quantitative"},"y":{"field":"v","type":"quantitative"}}}
]}
],"resolve":{"scale":{"y":"independent"}}}
], "spacing": 14, "bounds": "flush"}
], "spacing": 94, "bounds": "flush"}
], "spacing": 99, "bounds": "flush"}
],
"spacing": 106,
"bounds": "flush"
}
